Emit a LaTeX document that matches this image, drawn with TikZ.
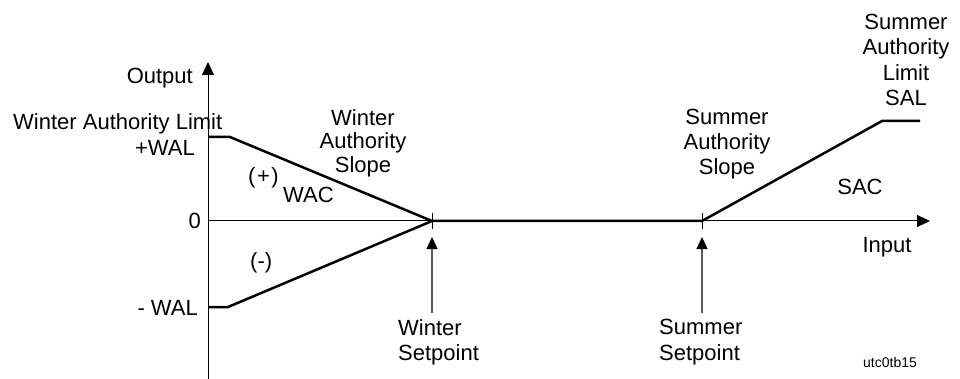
\documentclass[tikz,border=0pt]{standalone}
\usepackage{fontspec}
\setmainfont{Liberation Sans}
\usetikzlibrary{arrows.meta}
\begin{document}
\begin{tikzpicture}[x=1pt,y=-1pt,
  lbl/.style={inner sep=0pt, font=\fontsize{22}{25}\selectfont},
  small/.style={inner sep=0pt, font=\fontsize{14}{16}\selectfont},
  axis/.style={line width=1pt, -{Triangle[length=13pt,width=12pt]}},
  curve/.style={line width=2.5pt},
  tickmark/.style={line width=0.9pt},
  setarrow/.style={draw=black!65, line width=1.2pt, -{Triangle[length=12pt,width=11pt,color=black]}}]
\useasboundingbox (0,0) rectangle (960,379);
% key points
\coordinate (O) at (208,221);
\coordinate (ytop) at (208,62);
\coordinate (ybot) at (208,379);
\coordinate (xend) at (930,221);
\coordinate (wp) at (208,137);
\coordinate (wp2) at (230,137);
\coordinate (wm) at (208,307);
\coordinate (wm2) at (228,307);
\coordinate (wsp) at (432,221);
\coordinate (ssp) at (702,221);
\coordinate (sal1) at (882,121);
\coordinate (sal2) at (920,121);
\coordinate (wsa) at (432,313);
\coordinate (wsat) at (432,237);
\coordinate (ssa) at (702,313);
\coordinate (ssat) at (702,237);
% axes
\draw[axis] (ybot) -- (ytop);
\draw[axis] (O) -- (xend);
% curves
\draw[curve] (wp) -- (wp2) -- (wsp) -- (ssp) -- (sal1) -- (sal2);
\draw[curve] (wm) -- (wm2) -- (wsp);
% ticks
\draw[tickmark] ([yshift=-8pt]wsp) -- ([yshift=8pt]wsp);
\draw[tickmark] ([yshift=-8pt]ssp) -- ([yshift=8pt]ssp);
% setpoint arrows
\draw[setarrow] (wsa) -- (wsat);
\draw[setarrow] (ssa) -- (ssat);
% labels
\node[lbl, anchor=base east] (output) at (193,84) {Output};
\node[lbl, anchor=base west] (wal) at (13,130) {Winter Authority Limit};
\node[lbl, anchor=base east] (pwal) at (195,156) {+WAL};
\node[lbl, anchor=base east] (zero) at (201,229) {0};
\node[lbl, anchor=base east] (mwal) at (198,315) {- WAL};
\node[lbl, align=center, font=\fontsize{22}{23.5}\selectfont] (was) at (363,143) {Winter\\Authority\\Slope};
\node[lbl, anchor=base west] (plus) at (248,184) {(\kern1.5pt+\kern1.5pt)};
\node[lbl, anchor=base west] (wac) at (283,203) {WAC};
\node[lbl, anchor=base west] (minus) at (250,268) {(-)};
\node[lbl, align=left, anchor=west] (wset) at (398,342) {Winter\\Setpoint};
\node[lbl, align=left, anchor=west, font=\fontsize{22}{26}\selectfont] (sset) at (659,342) {Summer\\Setpoint};
\node[lbl, align=center] (sas) at (727,144) {Summer\\Authority\\Slope};
\node[lbl, align=center, font=\fontsize{22}{25.5}\selectfont] (sal) at (906,60) {Summer\\Authority\\Limit\\SAL};
\node[lbl, anchor=base] (sac) at (860,195) {SAC};
\node[lbl, anchor=base] (input) at (887,252) {Input};
\node[small, anchor=base] (code) at (890,367) {utc0tb15};
\end{tikzpicture}
\end{document}
